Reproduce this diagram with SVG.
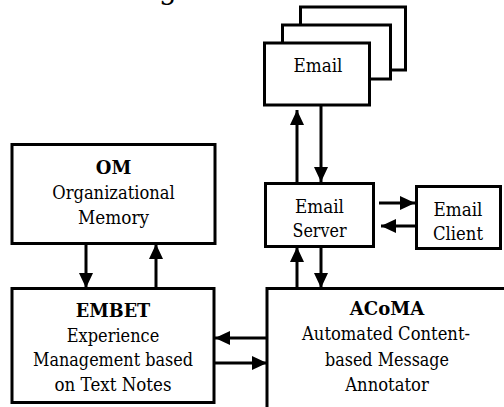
<svg xmlns="http://www.w3.org/2000/svg" width="504" height="407" viewBox="0 0 504 407">
<defs>
<style>
.box{fill:#fff;stroke:#000;stroke-width:3}
.t{font-family:"DejaVu Serif",serif;font-size:19px;fill:#000;text-anchor:middle}
.b{font-weight:bold}
.c{fill:none;stroke:#000;stroke-width:3}
</style>
<marker id="ah" markerUnits="userSpaceOnUse" markerWidth="16" markerHeight="15" refX="15" refY="7" orient="auto">
<path d="M0,0 L15,7 L0,14 z" fill="#000"/>
</marker>
</defs>
<rect width="504" height="407" fill="#fff"/>
<text class="t" x="168" y="-1" style="font-size:28px">g</text>
<g id="email">
<rect class="box" x="300.5" y="7" width="105" height="63"/>
<rect class="box" x="282.5" y="25" width="108" height="54"/>
<rect class="box" x="264.5" y="43" width="105" height="62"/>
<text class="t" x="318" y="72" textLength="49" lengthAdjust="spacingAndGlyphs">Email</text>
</g>
<g id="server">
<rect class="box" x="265.5" y="183.5" width="108" height="63"/>
<text class="t" x="319.5" y="213" textLength="49" lengthAdjust="spacingAndGlyphs">Email</text>
<text class="t" x="319.5" y="237" textLength="54" lengthAdjust="spacingAndGlyphs">Server</text>
</g>
<g id="client">
<rect class="box" x="416.5" y="186.5" width="84" height="62"/>
<text class="t" x="458" y="216" textLength="49" lengthAdjust="spacingAndGlyphs">Email</text>
<text class="t" x="458" y="240" textLength="50" lengthAdjust="spacingAndGlyphs">Client</text>
</g>
<g id="om">
<rect class="box" x="12" y="144.5" width="203" height="99"/>
<text class="t b" x="113.5" y="174" textLength="35.5" lengthAdjust="spacingAndGlyphs">OM</text>
<text class="t" x="113.5" y="199" textLength="122.5" lengthAdjust="spacingAndGlyphs">Organizational</text>
<text class="t" x="113.5" y="224" textLength="71" lengthAdjust="spacingAndGlyphs">Memory</text>
</g>
<g id="embet">
<rect class="box" x="12" y="288.5" width="202" height="114"/>
<text class="t b" x="113" y="317" textLength="74.5" lengthAdjust="spacingAndGlyphs">EMBET</text>
<text class="t" x="113" y="342" textLength="92.5" lengthAdjust="spacingAndGlyphs">Experience</text>
<text class="t" x="113" y="366" textLength="160" lengthAdjust="spacingAndGlyphs">Management based</text>
<text class="t" x="113" y="391" textLength="117" lengthAdjust="spacingAndGlyphs">on Text Notes</text>
</g>
<g id="acoma">
<rect class="box" x="267" y="288.5" width="260" height="150"/>
<text class="t b" x="387" y="315" textLength="74.5" lengthAdjust="spacingAndGlyphs">ACoMA</text>
<text class="t" x="386" y="340" textLength="168" lengthAdjust="spacingAndGlyphs">Automated Content-</text>
<text class="t" x="387" y="366" textLength="124" lengthAdjust="spacingAndGlyphs">based Message</text>
<text class="t" x="387" y="391" textLength="83.5" lengthAdjust="spacingAndGlyphs">Annotator</text>
</g>
<g id="connectors">
<line class="c" x1="297" y1="183" x2="297" y2="110" marker-end="url(#ah)"/>
<line class="c" x1="321" y1="106" x2="321" y2="182" marker-end="url(#ah)"/>
<line class="c" x1="379" y1="203" x2="415" y2="203" marker-end="url(#ah)"/>
<line class="c" x1="415" y1="226" x2="381" y2="226" marker-end="url(#ah)"/>
<line class="c" x1="297" y1="288" x2="297" y2="247" marker-end="url(#ah)"/>
<line class="c" x1="321" y1="247" x2="321" y2="288" marker-end="url(#ah)"/>
<line class="c" x1="86" y1="244" x2="86" y2="288" marker-end="url(#ah)"/>
<line class="c" x1="156" y1="288" x2="156" y2="244" marker-end="url(#ah)"/>
<line class="c" x1="267" y1="338" x2="215" y2="338" marker-end="url(#ah)"/>
<line class="c" x1="215" y1="363" x2="267" y2="363" marker-end="url(#ah)"/>
</g>
</svg>
